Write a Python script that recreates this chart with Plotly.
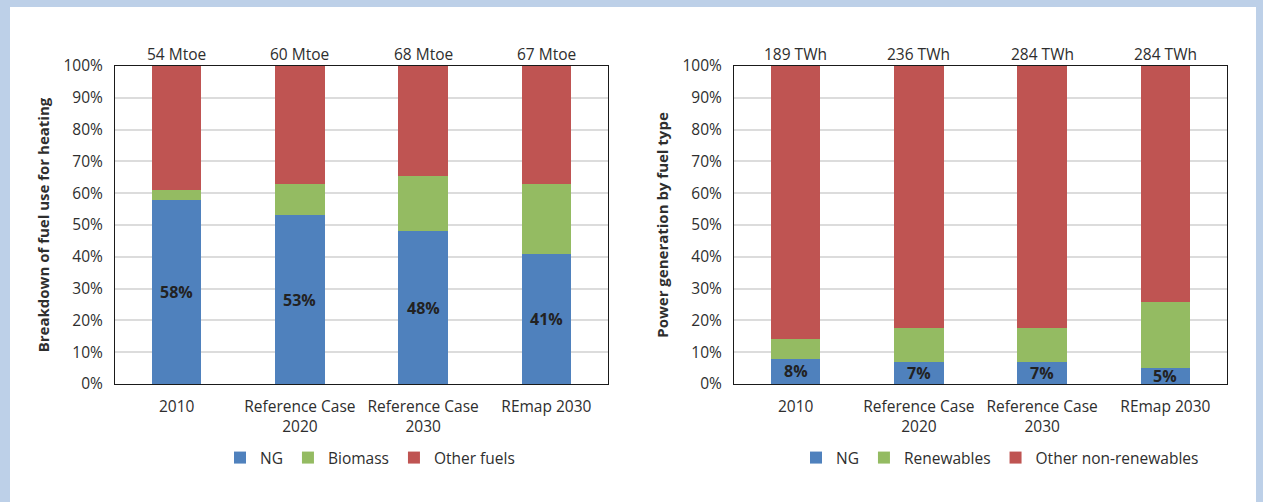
import plotly.graph_objects as go

# Categories shared by both panels
categories = ["2010", "Reference Case<br>2020", "Reference Case<br>2030", "REmap 2030"]

# Heating fuel mix (%)
heat_ng = [58, 53, 48, 41]
heat_biomass = [3, 10, 17.5, 22]
heat_other = [100 - a - b for a, b in zip(heat_ng, heat_biomass)]
heat_totals = ["54 Mtoe", "60 Mtoe", "68 Mtoe", "67 Mtoe"]

# Power generation mix (%)
power_ng = [8, 7, 7, 5]
power_renew = [6.2, 10.6, 10.6, 20.7]
power_other = [100 - a - b for a, b in zip(power_ng, power_renew)]
power_totals = ["189 TWh", "236 TWh", "284 TWh", "284 TWh"]

BLUE = "#4f81bd"
GREEN = "#94bb62"
RED = "#bf5452"
FONT = "Open Sans"
TXT = "#2e2e2e"
FS = 15.5

W, H = 1263, 502
fig = go.Figure()

def add_stack(xa, ya, legend, names, series):
    for name, vals, col in zip(names, series, [BLUE, GREEN, RED]):
        fig.add_trace(go.Bar(
            x=categories, y=vals, name=name, marker=dict(color=col, line=dict(width=0)),
            width=0.4, xaxis=xa, yaxis=ya, legend=legend, hoverinfo="skip",
        ))

add_stack("x", "y", "legend", ["NG", "Biomass", "Other fuels"], [heat_ng, heat_biomass, heat_other])
add_stack("x2", "y2", "legend2", ["NG", "Renewables", "Other non-renewables"],
          [power_ng, power_renew, power_other])

# Value labels inside the NG segments and totals above each column
# (category axes take the category index as annotation position)
annotations = []
for xr, yr, ng, totals in [("x", "y", heat_ng, heat_totals), ("x2", "y2", power_ng, power_totals)]:
    for i, (v, t) in enumerate(zip(ng, totals)):
        annotations.append(dict(x=i, y=v / 2, xref=xr, yref=yr, text=f"<b>{v}%</b>",
                                showarrow=False, font=dict(family=FONT, size=16, color="#222")))
        annotations.append(dict(x=i, y=100, xref=xr, yref=yr, text=t, showarrow=False,
                                yanchor="bottom", yshift=-1,
                                font=dict(family=FONT, size=FS, color=TXT)))

def px_x(p):
    return p / W

def px_y(p):
    return 1 - p / H

axis_common = dict(showline=True, linecolor="#1a1a1a", linewidth=1, mirror=True, automargin=False,
                   tickfont=dict(family=FONT, size=FS, color=TXT), fixedrange=True)

xaxis_common = dict(axis_common, type="category", range=[-0.5, 3.5], showgrid=False, ticks="",
                    ticklabelstandoff=8)

yaxis_common = dict(axis_common, range=[0, 100], dtick=10, ticksuffix="%",
                    showgrid=True, gridcolor="#dcdcdc", gridwidth=1.5, zeroline=False,
                    ticks="", ticklabelstandoff=8)

legend_common = dict(orientation="h", yanchor="middle", y=px_y(458), xanchor="center",
                     font=dict(family=FONT, size=FS, color=TXT), bgcolor="rgba(0,0,0,0)",
                     traceorder="normal", itemwidth=30, itemclick=False, itemdoubleclick=False)

fig.update_layout(
    width=W, height=H,
    margin=dict(l=0, r=0, t=0, b=0, pad=0, autoexpand=False),
    paper_bgcolor="#bdd0e8",
    plot_bgcolor="white",
    barmode="stack",
    showlegend=True,
    font=dict(family=FONT, color=TXT),
    xaxis=dict(xaxis_common, domain=[px_x(115), px_x(608)], anchor="y"),
    yaxis=dict(yaxis_common, domain=[px_y(384), px_y(66)], anchor="x",
               title=dict(text="<b>Breakdown of fuel use for heating</b>",
                          font=dict(family=FONT, size=15, color=TXT), standoff=10)),
    xaxis2=dict(xaxis_common, domain=[px_x(734), px_x(1227)], anchor="y2"),
    yaxis2=dict(yaxis_common, domain=[px_y(384), px_y(66)], anchor="x2",
                title=dict(text="<b>Power generation by fuel type</b>",
                           font=dict(family=FONT, size=15, color=TXT), standoff=10)),
    legend=dict(legend_common, x=px_x(370)),
    legend2=dict(legend_common, x=px_x(1000)),
    annotations=annotations,
    shapes=[dict(type="rect", xref="paper", yref="paper", x0=px_x(10), x1=px_x(1256),
                 y0=-0.1, y1=px_y(7), fillcolor="white", line=dict(width=0), layer="below")],
)

fig.write_html("out.html", config={"displayModeBar": False})
